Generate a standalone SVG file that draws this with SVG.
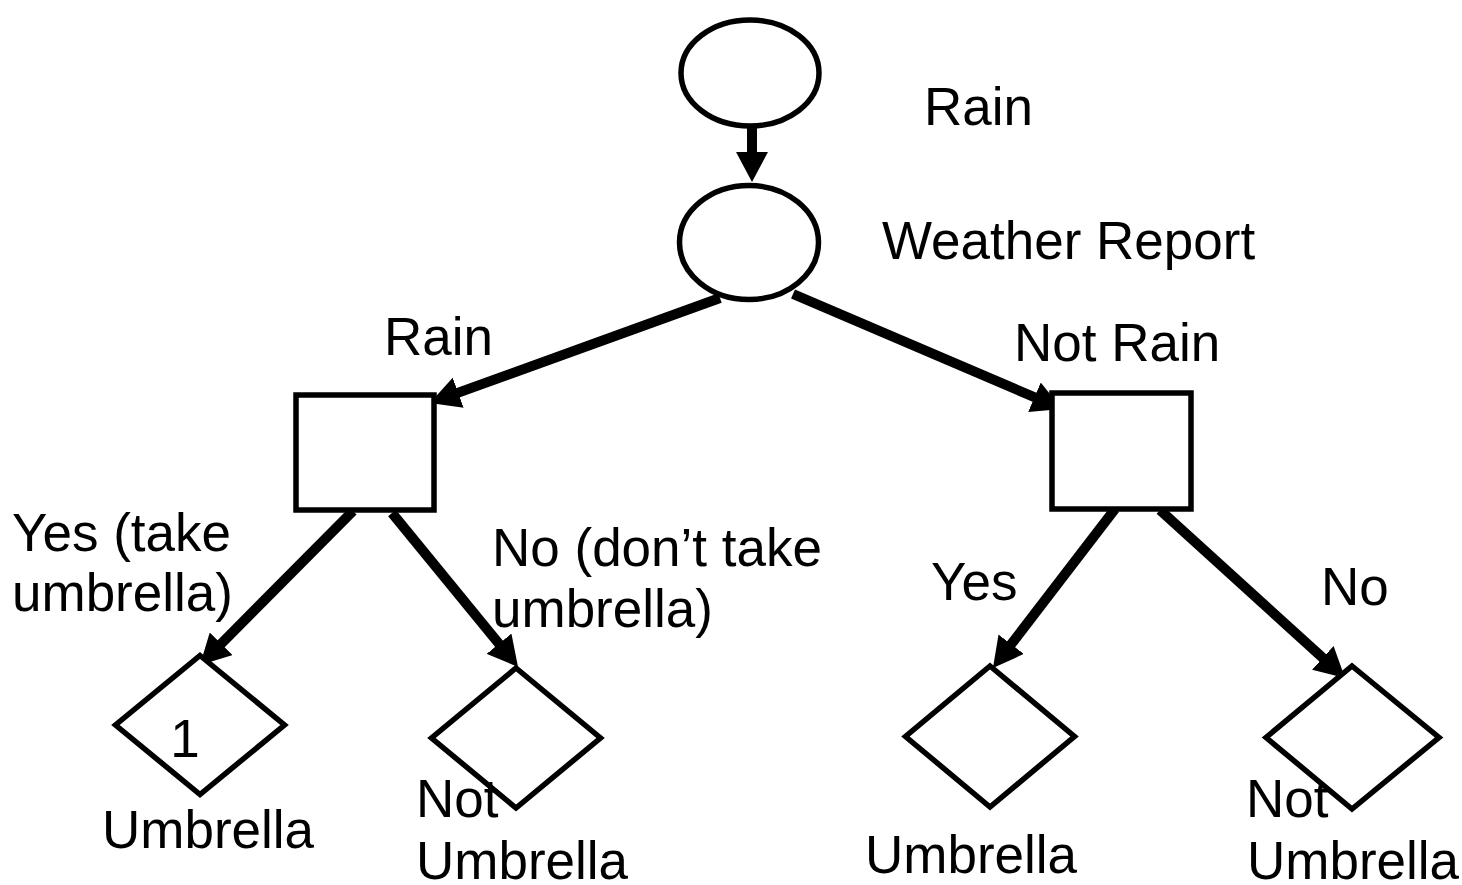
<svg xmlns="http://www.w3.org/2000/svg" width="1462" height="885" viewBox="0 0 1462 885">
  <style>
    .shape { fill: #ffffff; stroke: #000000; stroke-width: 5.5; }
    .conn { stroke: #000000; stroke-width: 10; fill: none; marker-end: url(#head); }
    .lbl { font-family: "Liberation Sans", Arial, sans-serif; font-size: 53px; fill: #000000; }
  </style>
  <defs>
    <marker id="head" markerUnits="userSpaceOnUse" viewBox="0 0 32 32" markerWidth="32" markerHeight="32" refX="2" refY="16" orient="auto">
      <path d="M0,0 L30,16 L0,32 z" fill="#000000"/>
    </marker>
  </defs>

  <rect width="1462" height="885" fill="#ffffff"/>

  <!-- connectors -->
  <g id="connectors">
    <line class="conn" x1="752" y1="122" x2="752" y2="154"/>
    <line class="conn" x1="720" y1="298" x2="456.3" y2="393.4"/>
    <line class="conn" x1="793" y1="294" x2="1036.3" y2="398"/>
    <line class="conn" x1="353" y1="511" x2="219.7" y2="645.2"/>
    <line class="conn" x1="392" y1="513" x2="500.3" y2="645.3"/>
    <line class="conn" x1="1115" y1="509" x2="1010" y2="645.8"/>
    <line class="conn" x1="1160" y1="510" x2="1324.3" y2="659.2"/>
  </g>

  <!-- chance node: Rain -->
  <g id="rain">
    <ellipse class="shape" cx="750" cy="73" rx="69" ry="53"/>
    <text class="lbl" x="924" y="125">Rain</text>
  </g>

  <!-- chance node: Weather Report -->
  <g id="weather-report">
    <ellipse class="shape" cx="749" cy="242.5" rx="69.5" ry="57"/>
    <text class="lbl" x="882" y="259">Weather Report</text>
  </g>

  <!-- decision after a rain report -->
  <g id="decision-rain">
    <rect class="shape" x="296" y="395" width="138" height="115"/>
    <text class="lbl" x="384" y="355">Rain</text>
  </g>

  <!-- decision after a no-rain report -->
  <g id="decision-not-rain">
    <rect class="shape" x="1052" y="393" width="139" height="116"/>
    <text class="lbl" x="1014" y="361">Not Rain</text>
  </g>

  <!-- branch labels -->
  <g id="branch-labels">
    <text class="lbl" x="12" y="551">Yes (take</text>
    <text class="lbl" x="12" y="611">umbrella)</text>
    <text class="lbl" x="492" y="566">No (don’t take</text>
    <text class="lbl" x="492" y="627">umbrella)</text>
    <text class="lbl" x="931" y="600">Yes</text>
    <text class="lbl" x="1321" y="605">No</text>
  </g>

  <!-- outcomes -->
  <g id="outcome-1">
    <polygon class="shape" points="200,655.5 284.5,725 200,794.5 115.5,725"/>
    <text class="lbl" x="185" y="757" text-anchor="middle">1</text>
    <text class="lbl" x="102" y="848">Umbrella</text>
  </g>

  <g id="outcome-2">
    <polygon class="shape" points="516,668 600.5,738 516,808 431.5,738"/>
    <text class="lbl" x="416" y="817">Not</text>
    <text class="lbl" x="416" y="879">Umbrella</text>
  </g>

  <g id="outcome-3">
    <polygon class="shape" points="990,666 1074.5,736.5 990,807 905.5,736.5"/>
    <text class="lbl" x="865" y="873">Umbrella</text>
  </g>

  <g id="outcome-4">
    <polygon class="shape" points="1352,666 1439,737.5 1352,809 1266,737.5"/>
    <text class="lbl" x="1246" y="817">Not</text>
    <text class="lbl" x="1247" y="879">Umbrella</text>
  </g>
</svg>
